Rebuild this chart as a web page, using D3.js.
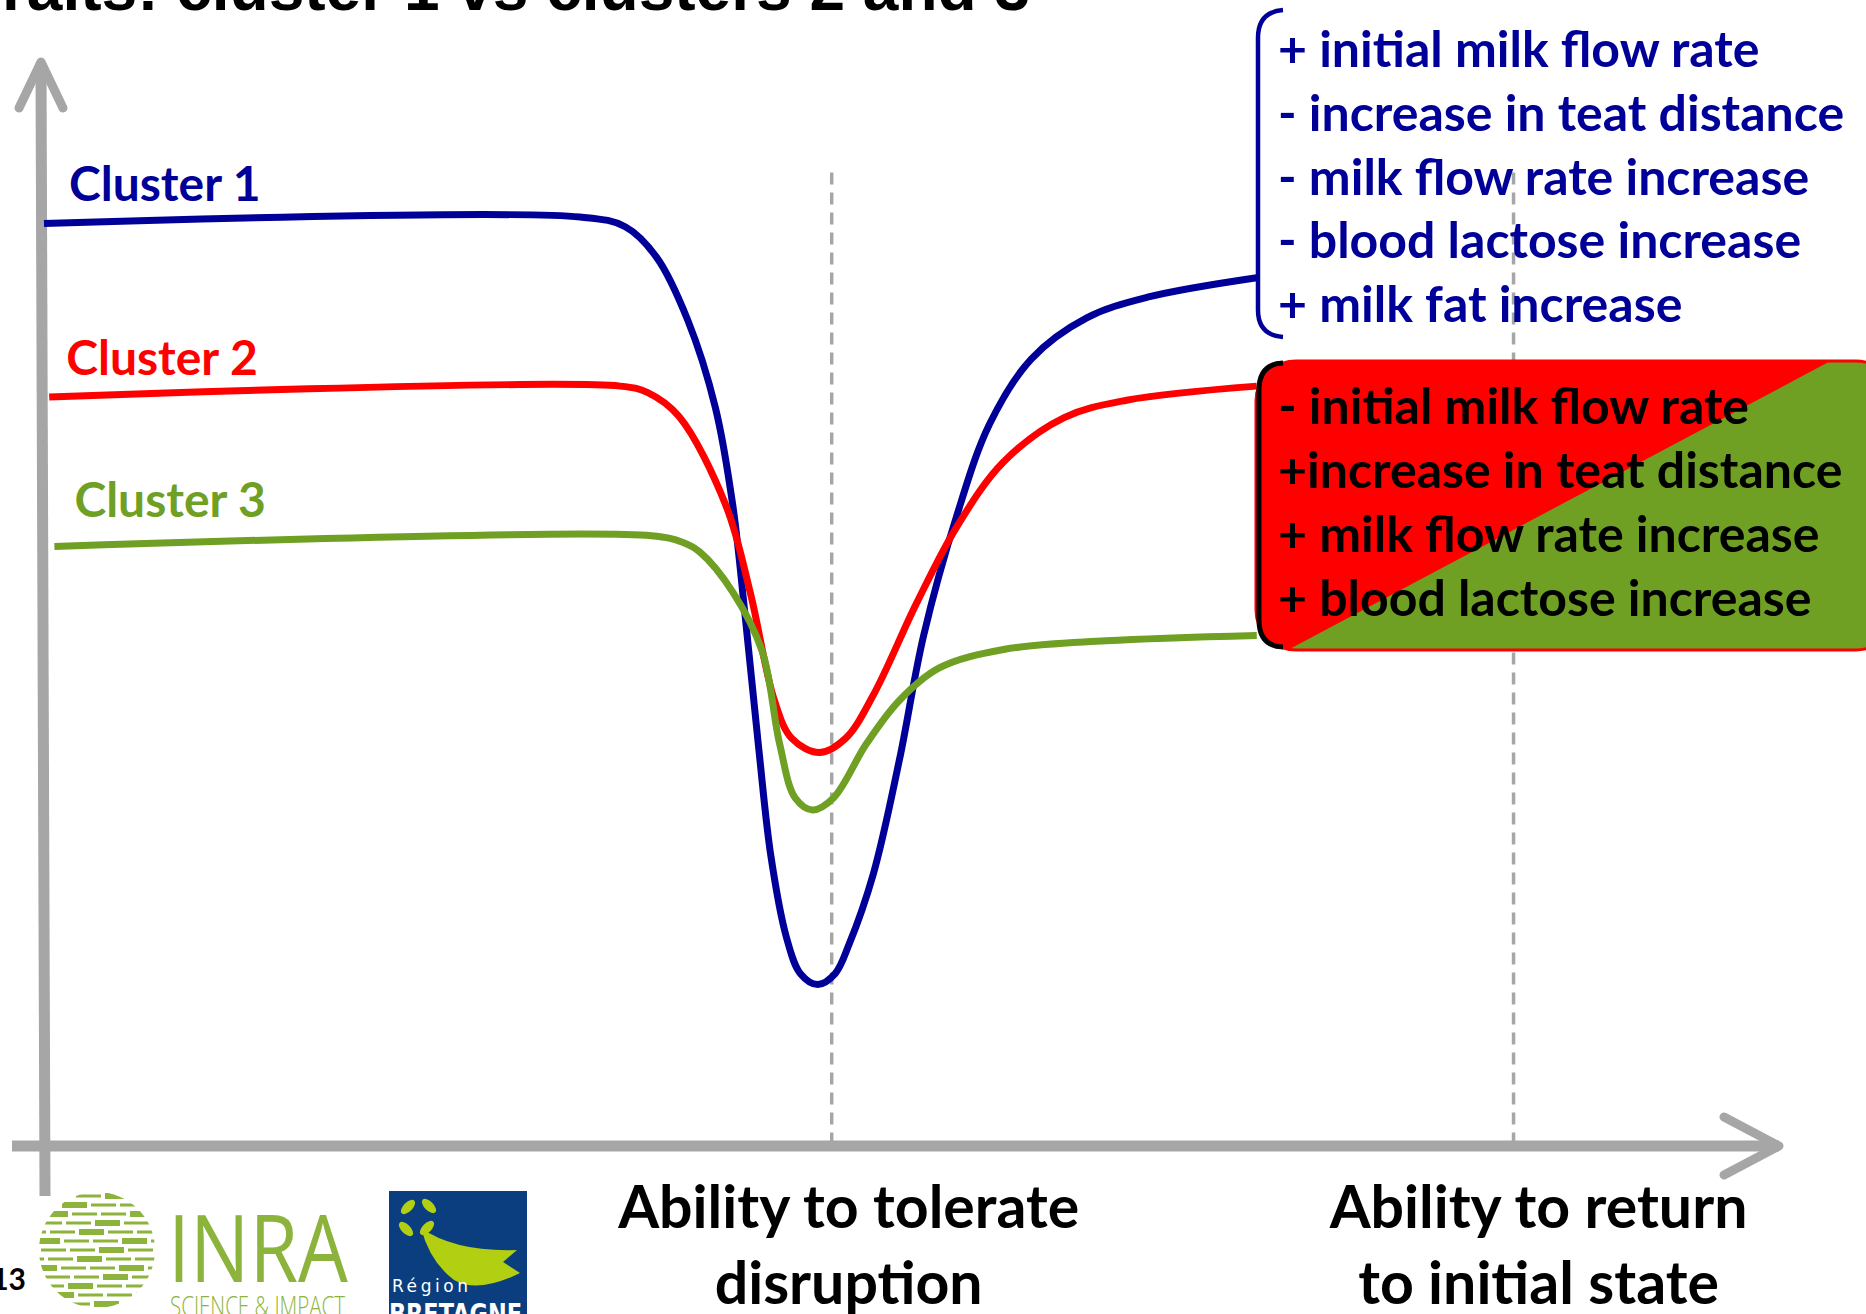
<!DOCTYPE html>
<html>
<head>
<meta charset="utf-8">
<script src="https://cdn.jsdelivr.net/npm/d3@7"></script>
<style>
  body { margin: 0; background: #fff; }
  svg { display: block; }
</style>
</head>
<body>
<svg id="svg"></svg>
<script>
const clusters = ['Cluster 1', 'Cluster 2', 'Cluster 3'];
const clusterColors = ['#000099', '#ff0000', '#6f9f23'];

// [time, level] (arbitrary units, 0-100 both ways)
const cluster1 = [[0, 85.1], [30.9, 85.7], [33.5, 84.8], [35.3, 82.0], [37.1, 76.2], [38.7, 68.1],
  [39.7, 59.1], [40.4, 49.1], [41.2, 36.6], [41.9, 26.7], [42.8, 19.2], [43.6, 15.9], [44.6, 14.9],
  [45.6, 15.9], [46.4, 18.6], [47.8, 25.1], [49.3, 35.6], [50.7, 47.1], [52.6, 58.1], [54.5, 66.6],
  [56.9, 72.6], [60.1, 76.4], [63.6, 78.3], [69.9, 80.1]];
const cluster2 = [[0.3, 69.1], [33.2, 70.1], [34.8, 69.5], [36.6, 67.3], [39.3, 59.1],
  [40.7, 51.1], [42.1, 41.1], [43.1, 37.6], [44.7, 36.3], [46.2, 37.6], [47.8, 41.6], [50.3, 50.1],
  [52.6, 57.1], [55.3, 63.1], [58.8, 67.2], [62.4, 68.8], [69.9, 70.1]];
const cluster3 = [[0.6, 55.3], [35.0, 56.3], [36.8, 55.7], [37.8, 54.8], [39.7, 51.1], [41.4, 45.6],
  [42.4, 37.1], [43.3, 32.1], [44.3, 31.0], [45.5, 32.1], [47.4, 37.1], [49.3, 41.1], [51.6, 44.1],
  [55.3, 45.8], [61.2, 46.6], [69.9, 47.1]];
const series = [cluster1, cluster2, cluster3];

const markers = [45.4, 84.7];
const markerLabels = [['Ability to tolerate', 'disruption'], ['Ability to return', 'to initial state']];

const cluster1Traits = ['+ initial milk flow rate', '- increase in teat distance',
  '- milk flow rate increase', '- blood lactose increase', '+ milk fat increase'];
const cluster23Traits = ['- initial milk flow rate', '+increase in teat distance',
  '+ milk flow rate increase', '+ blood lactose increase'];

const title = 'Traits: cluster 1 vs clusters 2 and 3';

const W = 1866, H = 1314;
const CAL = 'Lato, Carlito, "Open Sans", sans-serif';
const GREY = '#a6a6a6';

const svg = d3.select('#svg').attr('width', W).attr('height', H);

const x = d3.scaleLinear().domain([0, 100]).range([44, 1779]);
const y = d3.scaleLinear().domain([0, 100]).range([1146, 62]);

// title, mostly off the top of the slide
svg.append('text')
  .attr('x', 1030).attr('y', 10)
  .attr('text-anchor', 'end')
  .style('font-family', '"Liberation Sans", Arial, sans-serif')
  .style('font-weight', 'bold')
  .style('font-size', '64px')
  .text(title);

// dashed guide lines
svg.selectAll('line.marker')
  .data(markers)
  .enter()
  .append('line')
    .attr('class', 'marker')
    .attr('x1', d => x(d)).attr('x2', d => x(d))
    .attr('y1', y(89.8)).attr('y2', y(0.4))
    .attr('stroke', GREY)
    .attr('stroke-width', 3.5)
    .attr('stroke-dasharray', '12,8');

// axes
const axes = svg.append('g')
  .attr('stroke', GREY)
  .attr('stroke-width', 11)
  .attr('fill', 'none')
  .attr('stroke-linecap', 'round')
  .attr('stroke-linejoin', 'round');
axes.append('line')
  .attr('x1', x(0) - 3).attr('y1', y(100) + 4)
  .attr('x2', x(0) + 1).attr('y2', 1196)
  .attr('stroke-linecap', 'butt');
axes.append('path')
  .attr('stroke-width', 9)
  .attr('d', `M${x(0) - 25},${y(100) + 46}L${x(0) - 3},${y(100)}L${x(0) + 19},${y(100) + 46}`);
axes.append('line')
  .attr('x1', 12).attr('y1', y(0))
  .attr('x2', x(100)).attr('y2', y(0))
  .attr('stroke-linecap', 'butt');
axes.append('path')
  .attr('stroke-width', 9)
  .attr('d', `M${x(100) - 55},${y(0) - 29}L${x(100)},${y(0)}L${x(100) - 55},${y(0) + 29}`);

// curves
const line = d3.line()
  .x(d => x(d[0]))
  .y(d => y(d[1]))
  .curve(d3.curveCatmullRom.alpha(0.5));

svg.selectAll('path.curve')
  .data(series)
  .enter()
  .append('path')
    .attr('class', 'curve')
    .attr('d', line)
    .attr('fill', 'none')
    .attr('stroke', (d, i) => clusterColors[i])
    .attr('stroke-width', 7)
    .attr('stroke-linejoin', 'round');

const labelOffsets = [[25, -23], [17, -22], [20, -30]];
svg.selectAll('text.cluster')
  .data(clusters)
  .enter()
  .append('text')
    .attr('class', 'cluster')
    .attr('x', (d, i) => x(series[i][0][0]) + labelOffsets[i][0])
    .attr('y', (d, i) => y(series[i][0][1]) + labelOffsets[i][1])
    .attr('fill', (d, i) => clusterColors[i])
    .style('font-family', CAL)
    .style('font-weight', 700)
    .style('font-size', '48px')
    .text(d => d);

// axis captions under the guide lines
const captionShift = [17, 25];
markerLabels.forEach((lines, i) => {
  const t = svg.append('text')
    .attr('text-anchor', 'middle')
    .style('font-family', CAL)
    .style('font-weight', 700)
    .style('font-size', '59px');
  lines.forEach((s, j) => {
    t.append('tspan')
      .attr('x', x(markers[i]) + captionShift[i])
      .attr('y', 1228 + j * 76)
      .text(s);
  });
});

// cluster 1 traits box (blue bracket)
const blue = clusterColors[0];
svg.append('path')
  .attr('d', 'M1283,10 Q1258,12 1258,38 L1258,310 Q1258,335 1283,337')
  .attr('fill', 'none')
  .attr('stroke', blue)
  .attr('stroke-width', 4.5);
svg.selectAll('text.trait1')
  .data(cluster1Traits)
  .enter()
  .append('text')
    .attr('class', 'trait1')
    .attr('x', 1278)
    .attr('y', (d, i) => 67 + i * 63.8)
    .attr('fill', blue)
    .style('font-family', CAL)
    .style('font-weight', 700)
    .style('font-size', '50px')
    .text(d => d);

// clusters 2 and 3 traits box (red / green split)
const bx = 1256, by = 361, bw = 640, bh = 289;
svg.append('clipPath').attr('id', 'boxClip')
  .append('rect')
    .attr('x', bx).attr('y', by).attr('width', bw).attr('height', bh).attr('rx', 40);
const box = svg.append('g').attr('clip-path', 'url(#boxClip)');
box.append('rect')
  .attr('x', bx).attr('y', by).attr('width', bw).attr('height', bh)
  .attr('fill', clusterColors[1]);
box.append('path')
  .attr('d', `M1284,${by + bh + 2}L1838,${by - 4}L${bx + bw},${by - 4}L${bx + bw},${by + bh + 2}Z`)
  .attr('fill', clusterColors[2]);
svg.append('rect')
  .attr('x', bx).attr('y', by).attr('width', bw).attr('height', bh).attr('rx', 40)
  .attr('fill', 'none')
  .attr('stroke', clusterColors[1])
  .attr('stroke-width', 3);
svg.append('path')
  .attr('d', 'M1283,363 Q1259,364 1259,390 L1259,620 Q1259,646 1283,647')
  .attr('fill', 'none')
  .attr('stroke', '#000')
  .attr('stroke-width', 5);
svg.selectAll('text.trait23')
  .data(cluster23Traits)
  .enter()
  .append('text')
    .attr('class', 'trait23')
    .attr('x', 1278)
    .attr('y', (d, i) => 424 + i * 64)
    .attr('fill', '#000')
    .style('font-family', CAL)
    .style('font-weight', 700)
    .style('font-size', '50px')
    .text(d => d);

// footer: slide number and logos
svg.append('text')
  .attr('x', 26).attr('y', 1290)
  .attr('text-anchor', 'end')
  .style('font-family', CAL).style('font-weight', 700).style('font-size', '30px')
  .text('13');

const inraGreen = '#8cb43c';
const logo = svg.append('g');
logo.append('clipPath').attr('id', 'inraClip')
  .append('circle').attr('cx', 97).attr('cy', 1250).attr('r', 58);
const stripes = logo.append('g').attr('clip-path', 'url(#inraClip)').attr('fill', inraGreen);
d3.range(-54, 58, 9).forEach((dy, r) => {
  const shift = [6, -8, 2, -4, 9, -6, 0, 7, -9, 4, -2, 8, -5][r];
  d3.range(-3, 3).forEach(k => {
    const x0 = 97 + k * 29 + shift + 2, x1 = x0 + 25;
    stripes.append('rect')
      .attr('x', x0).attr('y', 1250 + dy - ((r + k) % 3 === 0 ? 3 : 1.5))
      .attr('width', x1 - x0).attr('height', (r + k) % 3 === 0 ? 6 : 3);
  });
});
logo.append('text')
  .attr('x', 168).attr('y', 1282)
  .attr('textLength', 180).attr('lengthAdjust', 'spacingAndGlyphs')
  .attr('fill', inraGreen)
  .style('font-family', '"Open Sans", sans-serif').style('font-weight', 400).style('font-size', '94px')
  .text('INRA');
logo.append('text')
  .attr('x', 170).attr('y', 1316)
  .attr('textLength', 175).attr('lengthAdjust', 'spacingAndGlyphs')
  .attr('fill', inraGreen)
  .style('font-family', '"Open Sans", sans-serif').style('font-weight', 300).style('font-size', '27px')
  .text('SCIENCE & IMPACT');

const bzh = svg.append('g');
bzh.append('rect').attr('x', 389).attr('y', 1191).attr('width', 138).attr('height', 130).attr('fill', '#0b3e7e');
const leaf = '#b3cf12';
[[408, 1207, -45], [429, 1206, 45], [406, 1229, 45], [427, 1228, -45]].forEach(([cx, cy, a]) => {
  bzh.append('ellipse')
    .attr('cx', cx).attr('cy', cy).attr('rx', 9).attr('ry', 4.5)
    .attr('transform', `rotate(${a},${cx},${cy})`)
    .attr('fill', leaf);
});
bzh.append('path')
  .attr('d', 'M421,1228 Q455,1252 517,1250 L503,1262 L520,1273 Q478,1294 454,1280 Q430,1262 421,1228Z')
  .attr('fill', leaf);
bzh.append('text')
  .attr('x', 392).attr('y', 1292)
  .attr('fill', '#fff')
  .attr('textLength', 76)
  .style('font-family', '"DejaVu Sans", sans-serif').style('font-size', '17px')
  .text('Région');
bzh.append('text')
  .attr('x', 389).attr('y', 1324)
  .attr('fill', '#fff')
  .attr('textLength', 133).attr('lengthAdjust', 'spacingAndGlyphs')
  .style('font-family', '"DejaVu Sans", sans-serif').style('font-weight', 'bold').style('font-size', '28px')
  .text('BRETAGNE');
</script>
</body>
</html>
